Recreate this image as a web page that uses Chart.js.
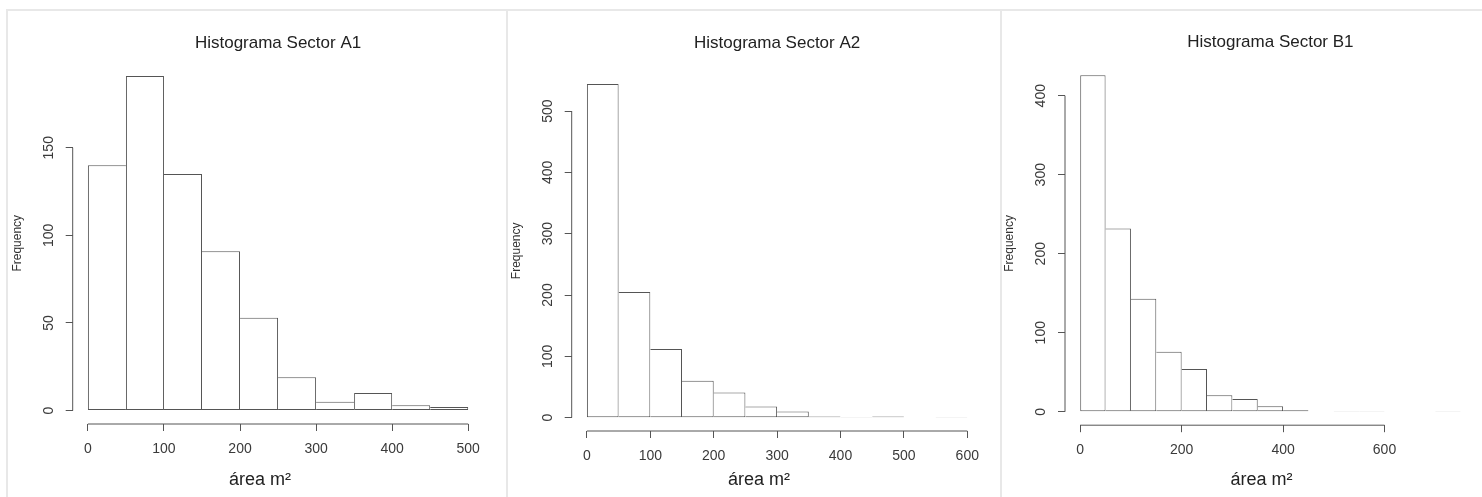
<!DOCTYPE html>
<html lang="es">
<head>
<meta charset="utf-8">
<title>Histogramas por sector</title>
<script src="https://cdn.jsdelivr.net/npm/chart.js@4.4.1/dist/chart.umd.min.js"></script>
<style>
  html, body { margin: 0; padding: 0; background: #fff; }
  body { position: relative; width: 1482px; height: 497px; overflow: hidden; }
  .panel {
    position: absolute;
    top: 9px;
    height: 486px;
    border-left: 2px solid #e8e8e8;
    border-top: 2px solid #e8e8e8;
  }
  .panel canvas { display: block; }
</style>
</head>
<body>
<div class="panel" style="left:6px;width:498px"><canvas id="chart-a1" width="498" height="486"></canvas></div>
<div class="panel" style="left:506px;width:492px"><canvas id="chart-a2" width="492" height="486"></canvas></div>
<div class="panel" style="left:1000px;width:480px"><canvas id="chart-b1" width="480" height="486"></canvas></div>
<script>
// Histogramas de área por sector, imitando el estilo hist() de R

const LINE = "#555";
const TEXT = "#333";

// Sector A1
const a1Breaks = [0, 50, 100, 150, 200, 250, 300, 350, 400, 450, 500];
const a1Counts = [140, 191, 135, 91, 53, 19, 5, 10, 3, 2];
const a1XTicks = [0, 100, 200, 300, 400, 500];
const a1YTicks = [0, 50, 100, 150];

// Sector A2
const a2Breaks = [0, 50, 100, 150, 200, 250, 300, 350, 400, 450, 500, 550, 600];
const a2Counts = [544, 205, 112, 60, 41, 18, 10, 2, 1, 2, 0, 1];
const a2XTicks = [0, 100, 200, 300, 400, 500, 600];
const a2YTicks = [0, 100, 200, 300, 400, 500];

// Sector B1
const b1Breaks = [0, 50, 100, 150, 200, 250, 300, 350, 400, 450, 500, 550, 600, 650, 700, 750];
const b1Counts = [426, 232, 143, 76, 54, 21, 16, 7, 2, 0, 1, 1, 0, 0, 1];
const b1XTicks = [0, 200, 400, 600];
const b1YTicks = [0, 100, 200, 300, 400];

Chart.defaults.font.family = "'Liberation Sans', Arial, sans-serif";
Chart.defaults.color = TEXT;

// R draws the axis line only between the first and last tick
const rAxisLines = {
  id: "rAxisLines",
  afterDraw(chart) {
    const { ctx, chartArea } = chart;
    const xs = chart.scales.x;
    const ys = chart.scales.y;
    ctx.save();
    ctx.strokeStyle = LINE;
    ctx.lineWidth = 1;
    ctx.beginPath();
    ctx.moveTo(xs.getPixelForValue(xs.ticks[0].value), chartArea.bottom);
    ctx.lineTo(xs.getPixelForValue(xs.ticks[xs.ticks.length - 1].value), chartArea.bottom);
    ctx.moveTo(chartArea.left, ys.getPixelForValue(ys.ticks[0].value));
    ctx.lineTo(chartArea.left, ys.getPixelForValue(ys.ticks[ys.ticks.length - 1].value));
    ctx.stroke();
    ctx.restore();
  },
};

function toBins(breaks, counts) {
  return counts.map((c, i) => ({ x: (breaks[i] + breaks[i + 1]) / 2, y: c }));
}

// one shared edge between neighbours, drawn by the taller bar
function edgeWidths(ctx) {
  if (ctx.dataIndex === undefined) return 1;
  const d = ctx.dataset.data;
  const i = ctx.dataIndex;
  const h = d[i].y;
  const prev = i > 0 ? d[i - 1].y : -1;
  const next = i < d.length - 1 ? d[i + 1].y : -1;
  return { top: 1, bottom: 1, left: prev <= h ? 1 : 0, right: next < h ? 1 : 0 };
}

function makeHistogram(id, title, breaks, counts, xTicks, yTicks, box) {
  const ctx = document.getElementById(id).getContext("2d");
  const xFrom = breaks[0];
  const xTo = breaks[breaks.length - 1];
  const yTop = Math.max(...counts);

  return new Chart(ctx, {
    type: "bar",
    data: {
      datasets: [
        {
          data: toBins(breaks, counts),
          backgroundColor: "#fff",
          borderColor: LINE,
          borderWidth: edgeWidths,
          borderSkipped: false,
          inflateAmount: 0,
          barPercentage: 1,
          categoryPercentage: 1,
        },
      ],
    },
    options: {
      responsive: false,
      animation: false,
      devicePixelRatio: 1,
      layout: {
        padding: { left: 0, top: 0, bottom: 0, right: box.padRight },
      },
      plugins: {
        legend: { display: false },
        tooltip: { enabled: false },
        title: {
          display: true,
          text: title,
          fullSize: false,
          color: "#222",
          font: { size: 17, weight: "normal", lineHeight: 1.2 },
          padding: { top: box.titleTop, bottom: box.titleBottom },
        },
      },
      scales: {
        x: {
          type: "linear",
          offset: false,
          min: xFrom - 0.04 * (xTo - xFrom),
          max: xTo + 0.04 * (xTo - xFrom),
          afterBuildTicks: (scale) => {
            scale.ticks = xTicks.map((v) => ({ value: v }));
          },
          afterFit: (scale) => {
            scale.height = box.xHeight;
          },
          border: { display: false },
          grid: {
            offset: false,
            drawOnChartArea: false,
            drawTicks: true,
            tickLength: 7,
            color: LINE,
          },
          ticks: {
            padding: 10,
            maxRotation: 0,
            autoSkip: false,
            color: "#3a3a3a",
            font: { size: 14 },
            callback: (v) => String(v),
          },
          title: {
            display: true,
            text: box.xTitle,
            color: "#222",
            font: { size: 18, lineHeight: 1.2 },
            padding: { top: 0, bottom: 6 },
          },
        },
        y: {
          min: -0.04 * yTop,
          max: 1.04 * yTop,
          afterBuildTicks: (scale) => {
            scale.ticks = yTicks.map((v) => ({ value: v }));
          },
          afterFit: (scale) => {
            scale.width = box.yWidth;
          },
          border: { display: false },
          grid: {
            drawOnChartArea: false,
            drawTicks: true,
            tickLength: 7,
            color: LINE,
          },
          ticks: {
            padding: 5,
            minRotation: 90,
            maxRotation: 90,
            crossAlign: "center",
            autoSkip: false,
            color: "#3a3a3a",
            font: { size: 14 },
            callback: (v) => String(v),
          },
          title: {
            display: true,
            text: "Frequency",
            color: TEXT,
            font: { size: 12, lineHeight: 1.2 },
            padding: { top: box.yTitlePad, bottom: 0 },
          },
        },
      },
    },
    plugins: [rAxisLines],
  });
}

makeHistogram("chart-a1", "Histograma Sector A1", a1Breaks, a1Counts, a1XTicks, a1YTicks, {
  yWidth: 64.7, padRight: 22.6, titleTop: 21.8, titleBottom: 9.3, xHeight: 73,
  yTitlePad: 2.8, xTitle: "área m²\u2003\u2003",
});

makeHistogram("chart-a2", "Histograma Sector A2", a2Breaks, a2Counts, a2XTicks, a2YTicks, {
  yWidth: 63.7, padRight: 17.5, titleTop: 21.8, titleBottom: 17.5, xHeight: 66,
  yTitlePad: 1.5, xTitle: "área m²\u2003\u2003",
});

makeHistogram("chart-b1", "Histograma Sector B1", b1Breaks, b1Counts, b1XTicks, b1YTicks, {
  yWidth: 63, padRight: 6.2, titleTop: 21.5, titleBottom: 8.8, xHeight: 71.8,
  yTitlePad: 0, xTitle: "área m²\u2003",
});
</script>
</body>
</html>
